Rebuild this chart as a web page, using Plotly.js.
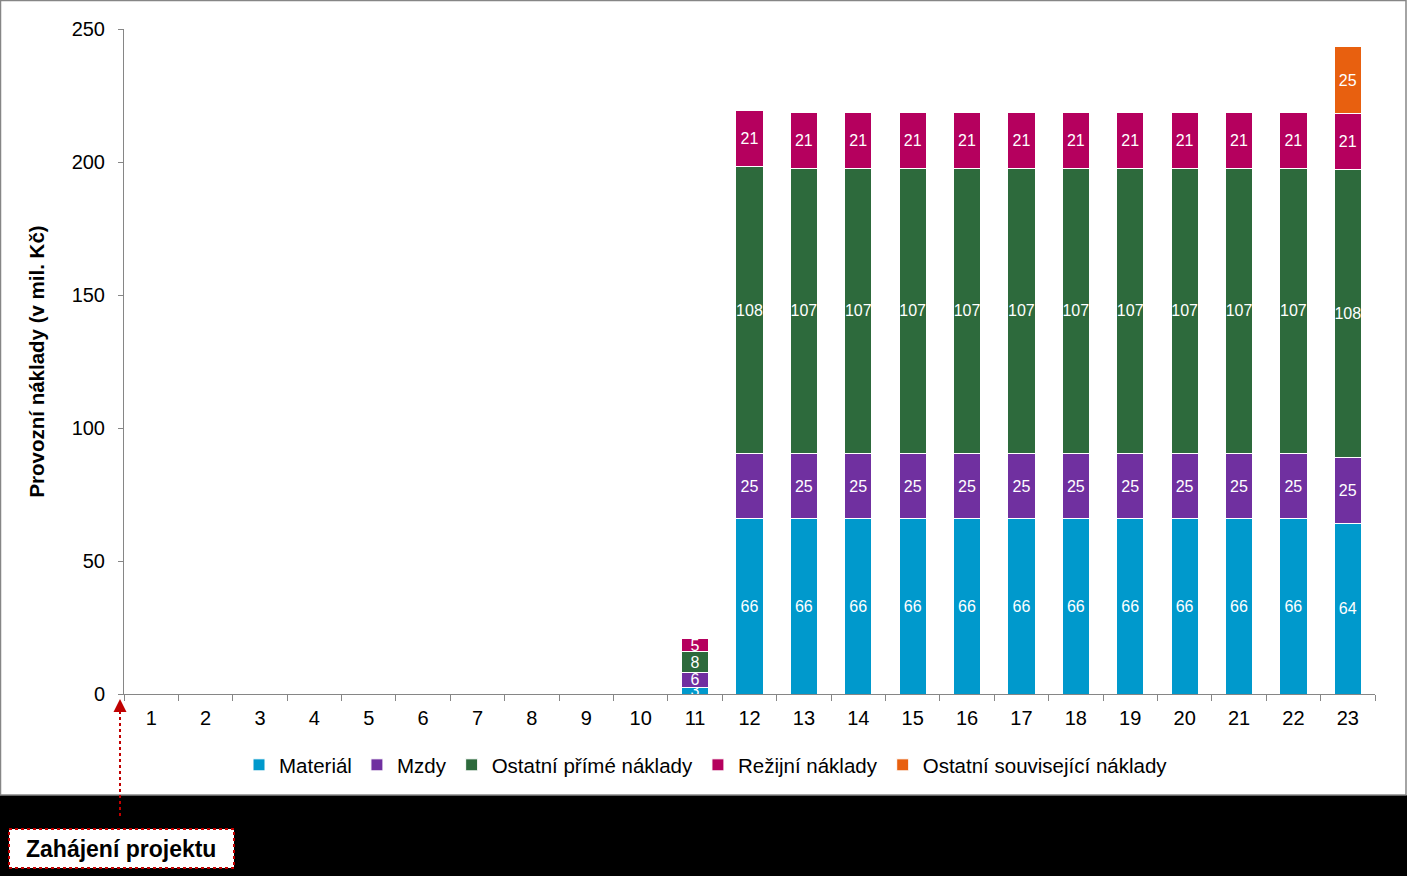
<!DOCTYPE html>
<html>
<head>
<meta charset="utf-8">
<script src="https://cdn.plot.ly/plotly-3.0.1.min.js"></script>
<style>
html,body{margin:0;padding:0;background:#000;}
#chart{width:1407px;height:876px;}
</style>
</head>
<body>
<div id="chart"></div>
<script>
var categories = ['1','2','3','4','5','6','7','8','9','10','11','12','13','14','15','16','17','18','19','20','21','22','23'];
var seriesNames = ['Materiál','Mzdy','Ostatní přímé náklady','Režijní náklady','Ostatní související náklady'];
var material = [null,null,null,null,null,null,null,null,null,null,2.6,65.8,65.8,65.8,65.8,65.8,65.8,65.8,65.8,65.8,65.8,65.8,64.2];
var mzdy = [null,null,null,null,null,null,null,null,null,null,5.6,24.6,24.6,24.6,24.6,24.6,24.6,24.6,24.6,24.6,24.6,24.6,24.6];
var ostatniPrime = [null,null,null,null,null,null,null,null,null,null,7.6,107.8,107.2,107.2,107.2,107.2,107.2,107.2,107.2,107.2,107.2,107.2,108.2];
var rezijni = [null,null,null,null,null,null,null,null,null,null,4.9,21.1,21.1,21.1,21.1,21.1,21.1,21.1,21.1,21.1,21.1,21.1,21.1];
var ostatniSouvisejici = [null,null,null,null,null,null,null,null,null,null,null,null,null,null,null,null,null,null,null,null,null,null,25.2];
var colors = ['#0099CC','#7030A0','#2D6A3C','#B5005E','#E8600F'];
var yTicks = [0,50,100,150,200,250];

var FONT = 'Liberation Sans, Arial, sans-serif';
var allSeries = [material, mzdy, ostatniPrime, rezijni, ostatniSouvisejici];
var traces = allSeries.map(function(vals, i){
  return {
    type:'bar', name:seriesNames[i], x:categories, y:vals,
    marker:{color:colors[i], line:{color:'#ffffff', width:1}},
    texttemplate:'%{y:.0f}', textposition:'inside', insidetextanchor:'middle',
    textangle:0, constraintext:'none', cliponaxis:false,
    insidetextfont:{color:'#ffffff', size:16, family:FONT},
    hoverinfo:'x+y+name'
  };
});

// paper coordinate helpers (plot area: x 124..1375, y 29..694)
function px(x){ return (x-124)/1251; }
function py(y){ return 1-(y-29)/665; }

var layout = {
  width:1407, height:876,
  margin:{l:124, r:32, t:29, b:182},
  paper_bgcolor:'#ffffff', plot_bgcolor:'#ffffff',
  barmode:'stack', bargap:0.5,
  font:{family:FONT, color:'#000000', size:20},
  showlegend:true,
  legend:{orientation:'h', x:px(706), y:py(765), xanchor:'center', yanchor:'middle',
          font:{size:20.5, family:FONT}, itemwidth:30, traceorder:'normal', bgcolor:'rgba(0,0,0,0)'},
  xaxis:{type:'category', range:[-0.5,22.5], showgrid:false, zeroline:false,
         showline:true, linecolor:'#868686', linewidth:1,
         ticks:'outside', tickson:'boundaries', ticklen:6, tickcolor:'#868686',
         ticklabelstandoff:6,
         tickfont:{size:20, family:FONT}, fixedrange:true},
  yaxis:{range:[0,250], tickvals:yTicks, showgrid:false, zeroline:false,
         showline:true, linecolor:'#868686', linewidth:1,
         ticks:'outside', ticklen:5, tickcolor:'#868686',
         ticklabelstandoff:9,
         tickfont:{size:20, family:FONT},
         title:{text:'<b>Provozní náklady (v mil. Kč)</b>', font:{size:20.5, family:FONT}, standoff:21},
         fixedrange:true},
  shapes:[
    {type:'rect', xref:'paper', yref:'paper', x0:px(-5), x1:px(1412), y0:py(795), y1:py(880),
     fillcolor:'#000000', line:{width:0}, layer:'below'},
    {type:'rect', xref:'paper', yref:'paper', x0:px(0.5), x1:px(1406), y0:py(795), y1:py(0.5),
     fillcolor:'rgba(0,0,0,0)', line:{color:'#868686', width:1.5}, layer:'below'},
    {type:'rect', xref:'paper', yref:'paper', x0:px(9), x1:px(234), y0:py(868), y1:py(829),
     fillcolor:'#ffffff', line:{color:'#C00000', width:2, dash:'dot'}, layer:'above'},
    {type:'line', xref:'paper', yref:'paper', x0:px(120), x1:px(120), y0:py(816), y1:py(708),
     line:{color:'#C00000', width:2, dash:'dot'}, layer:'above'}
  ],
  annotations:[
    {xref:'paper', yref:'paper', x:px(121), y:py(849), text:'<b>Zahájení projektu</b>',
     showarrow:false, xanchor:'center', yanchor:'middle', font:{size:23, family:FONT, color:'#000000'}},
    {xref:'paper', yref:'paper', x:px(120), y:py(699), text:'', showarrow:true,
     ax:0, ay:14, arrowhead:2, arrowsize:1.3, arrowwidth:2, arrowcolor:'#C00000'}
  ]
};

Plotly.newPlot('chart', traces, layout, {displayModeBar:false, staticPlot:true});
</script>
</body>
</html>
